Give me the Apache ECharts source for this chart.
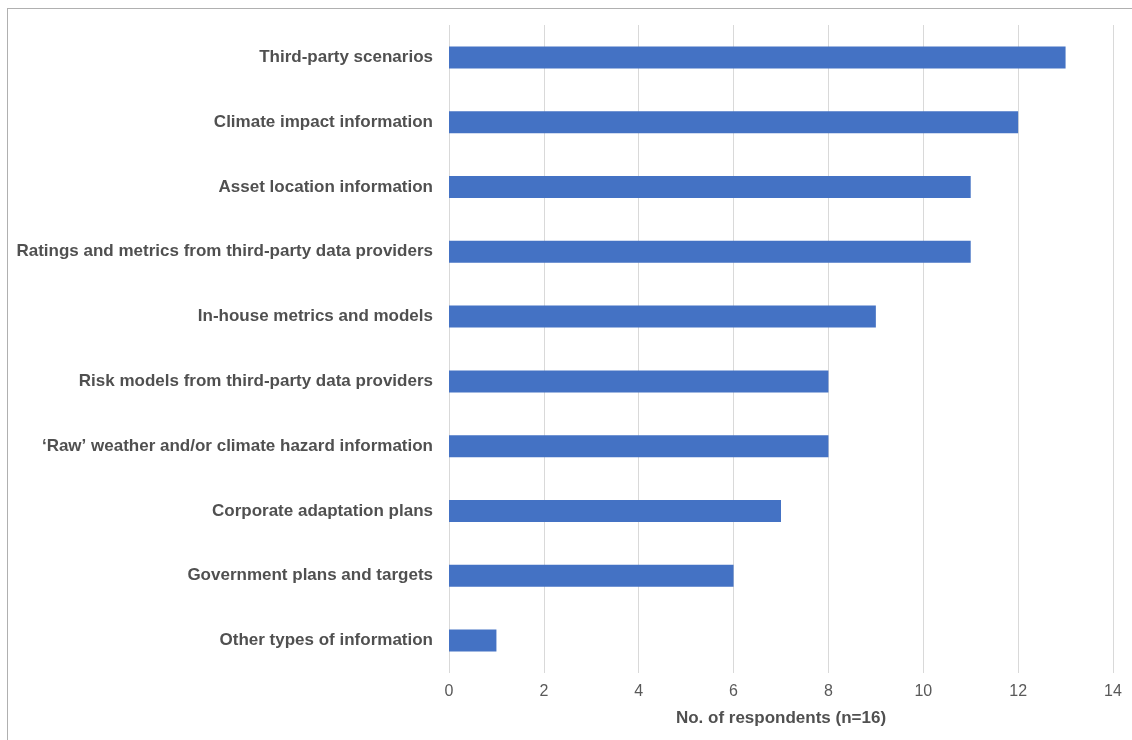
<!DOCTYPE html>
<html><head><meta charset="utf-8">
<script src="https://cdn.jsdelivr.net/npm/echarts@6/dist/echarts.min.js"></script>
<style>
html,body{margin:0;padding:0;background:#fff;}
#frame{position:absolute;left:7px;top:8px;width:1125px;height:732px;border-top:1.5px solid #b0b0b0;border-left:1.5px solid #b0b0b0;box-sizing:border-box;}
#c{position:absolute;left:0;top:0;width:1132px;height:740px;}
</style></head>
<body>
<div id="frame"></div>
<div id="c"></div>
<script>
const categories = [
  "Third-party scenarios",
  "Climate impact information",
  "Asset location information",
  "Ratings and metrics from third-party data providers",
  "In-house metrics and models",
  "Risk models from third-party data providers",
  "\u2018Raw\u2019 weather and/or climate hazard information",
  "Corporate adaptation plans",
  "Government plans and targets",
  "Other types of information"
];
const respondents = [13, 12, 11, 11, 9, 8, 8, 7, 6, 1];
const xTicks = [0, 2, 4, 6, 8, 10, 12, 14];
const xAxisTitle = "No. of respondents (n=16)";

const chart = echarts.init(document.getElementById('c'), null, {renderer:'canvas'});
chart.setOption({
  animation:false,
  textStyle:{fontFamily:'Liberation Sans, Arial, sans-serif'},
  grid:{left:449, right:19, top:25, bottom:67, containLabel:false},
  xAxis:{
    type:'value', min:xTicks[0], max:xTicks[xTicks.length-1], interval:2,
    axisLine:{show:false}, axisTick:{show:false},
    splitLine:{show:true, lineStyle:{color:'#d9d9d9', width:1}},
    axisLabel:{color:'#595959', fontSize:16, margin:11},
    name:xAxisTitle, nameLocation:'middle', nameGap:37,
    nameTextStyle:{color:'#505050', fontSize:17, fontWeight:'bold'}
  },
  yAxis:{
    type:'category', data:categories, inverse:true,
    axisLine:{show:false}, axisTick:{show:false},
    axisLabel:{color:'#505050', fontSize:17, fontWeight:'bold', margin:16}
  },
  series:[{
    type:'bar', data:respondents, barWidth:22,
    itemStyle:{color:'#4472C4'}
  }]
});
</script>
</body></html>
